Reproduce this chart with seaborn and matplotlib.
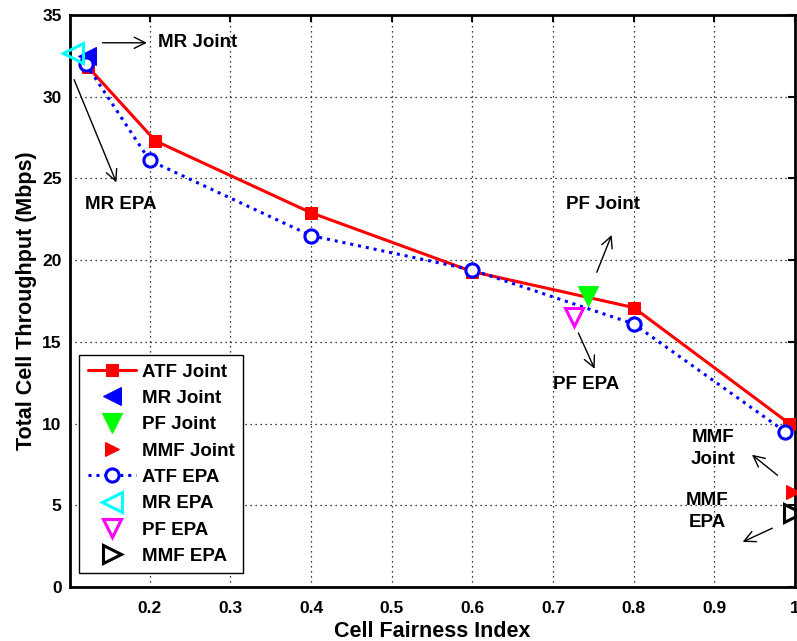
import matplotlib
matplotlib.use("Agg")
import matplotlib.pyplot as plt
import seaborn as sns

# ---- data ----
atf_joint_x = [0.124, 0.207, 0.4, 0.6, 0.8, 0.993]
atf_joint_y = [31.8, 27.3, 22.9, 19.3, 17.1, 10.0]
atf_epa_x = [0.121, 0.2, 0.4, 0.6, 0.8, 0.988]
atf_epa_y = [32.0, 26.1, 21.5, 19.4, 16.1, 9.5]
mr_joint = (0.122, 32.5)
mr_epa = (0.105, 32.7)
pf_joint = (0.743, 17.8)
pf_epa = (0.726, 16.5)
mmf_joint = (0.998, 5.8)
mmf_epa = (0.998, 4.5)
x_ticks = [0.2, 0.3, 0.4, 0.5, 0.6, 0.7, 0.8, 0.9, 1.0]
x_tick_labels = ["0.2", "0.3", "0.4", "0.5", "0.6", "0.7", "0.8", "0.9", "1"]
y_ticks = [0, 5, 10, 15, 20, 25, 30, 35]

sns.set_style("white")
plt.rcParams['font.family'] = ['Liberation Sans', 'DejaVu Sans']
plt.rcParams['font.weight'] = 'bold'
plt.rcParams['text.color'] = 'black'
plt.rcParams['axes.labelcolor'] = 'black'
plt.rcParams['xtick.color'] = 'black'
plt.rcParams['ytick.color'] = 'black'

fig = plt.figure(figsize=(7.97, 6.41), dpi=100)
ax = fig.add_axes([0.0878, 0.0842, 0.9097, 0.8924])

sns.lineplot(x=atf_joint_x, y=atf_joint_y, ax=ax, color='red', lw=2.2, marker='s',
             markersize=9, markeredgecolor='red', label='ATF Joint', sort=False,
             estimator=None, zorder=3)
sns.lineplot(x=[mr_joint[0]], y=[mr_joint[1]], ax=ax, color='blue', marker='<', linestyle='',
             markersize=12.5, markeredgecolor='blue', label='MR Joint', estimator=None, zorder=4)
sns.lineplot(x=[pf_joint[0]], y=[pf_joint[1]], ax=ax, color='#00ff00', marker='v', linestyle='',
             markersize=14, markeredgecolor='#00ff00', label='PF Joint', estimator=None, zorder=4)
sns.lineplot(x=[mmf_joint[0]], y=[mmf_joint[1]], ax=ax, color='red', marker='>', linestyle='',
             markersize=10.5, markeredgecolor='red', label='MMF Joint', estimator=None, zorder=4,
             clip_on=False)
sns.lineplot(x=atf_epa_x, y=atf_epa_y, ax=ax, color='blue', lw=2.2, linestyle=(0, (1, 1.6)),
             marker='o', markersize=9.5, markerfacecolor='white', markeredgecolor='blue',
             markeredgewidth=2.2, label='ATF EPA', sort=False, estimator=None, zorder=5)
sns.lineplot(x=[mr_epa[0]], y=[mr_epa[1]], ax=ax, color='cyan', marker='<', linestyle='',
             markersize=14, markerfacecolor='none', markeredgecolor='cyan', markeredgewidth=2.2,
             label='MR EPA', estimator=None, zorder=6, clip_on=False)
sns.lineplot(x=[pf_epa[0]], y=[pf_epa[1]], ax=ax, color='magenta', marker='v', linestyle='',
             markersize=13, markerfacecolor='none', markeredgecolor='magenta', markeredgewidth=2.2,
             label='PF EPA', estimator=None, zorder=6)
sns.lineplot(x=[mmf_epa[0]], y=[mmf_epa[1]], ax=ax, color='black', marker='>', linestyle='',
             markersize=13, markerfacecolor='none', markeredgecolor='black', markeredgewidth=2.2,
             label='MMF EPA', estimator=None, zorder=6, clip_on=False)

ax.set_xlim(0.1012, 1.0)
ax.set_ylim(0, 35)
ax.set_xticks(x_ticks)
ax.set_xticklabels(x_tick_labels)
ax.set_yticks(y_ticks)
ax.tick_params(direction='in', length=5, width=1.5, labelsize=12.5, top=True, right=True,
               colors='black')
ax.tick_params(axis='x', pad=10)
ax.tick_params(axis='y', pad=6)
for lab in ax.get_xticklabels() + ax.get_yticklabels():
    lab.set_fontweight('bold')
ax.grid(True, color='black', linestyle=(0, (1, 3)), linewidth=0.9)
for s in ax.spines.values():
    s.set_linewidth(2)
    s.set_color('black')
ax.set_xlabel('Cell Fairness Index', fontsize=15.5, fontweight='bold', labelpad=4)
ax.set_ylabel('Total Cell Throughput (Mbps)', fontsize=15.5, fontweight='bold', labelpad=4)

# annotations
afs = 13.5
arrow = dict(arrowstyle='->', color='black', lw=1, mutation_scale=20)
ax.annotate('', xy=(0.2, 33.3), xytext=(0.138, 33.3), arrowprops=arrow, annotation_clip=False)
ax.text(0.21, 33.3, 'MR Joint', fontsize=afs, fontweight='bold', va='center', ha='left')
ax.annotate('', xy=(0.16, 24.6), xytext=(0.105, 31.2), arrowprops=arrow)
ax.text(0.164, 23.4, 'MR EPA', fontsize=afs, fontweight='bold', va='center', ha='center')
ax.annotate('', xy=(0.774, 21.7), xytext=(0.753, 19.1), arrowprops=arrow)
ax.text(0.762, 23.4, 'PF Joint', fontsize=afs, fontweight='bold', va='center', ha='center')
ax.annotate('', xy=(0.753, 13.2), xytext=(0.730, 15.7), arrowprops=arrow)
ax.text(0.741, 12.4, 'PF EPA', fontsize=afs, fontweight='bold', va='center', ha='center')
ax.annotate('', xy=(0.944, 8.2), xytext=(0.981, 6.73), arrowprops=arrow)
ax.text(0.898, 8.5, 'MMF\nJoint', fontsize=afs, fontweight='bold', va='center', ha='center',
        linespacing=1.4)
ax.annotate('', xy=(0.932, 2.69), xytext=(0.975, 3.67), arrowprops=arrow)
ax.text(0.891, 4.6, 'MMF\nEPA', fontsize=afs, fontweight='bold', va='center', ha='center',
        linespacing=1.4)

leg = ax.legend(loc='lower left', bbox_to_anchor=(0.013, 0.024), borderaxespad=0,
                frameon=True, fancybox=False, edgecolor='black',
                handlelength=2.55, labelspacing=0.49, handletextpad=0.35, borderpad=0.45,
                prop={'weight': 'bold', 'size': 13.5})
leg.get_frame().set_linewidth(1)
leg.get_frame().set_alpha(1)

fig.savefig('out.png', dpi=100)
